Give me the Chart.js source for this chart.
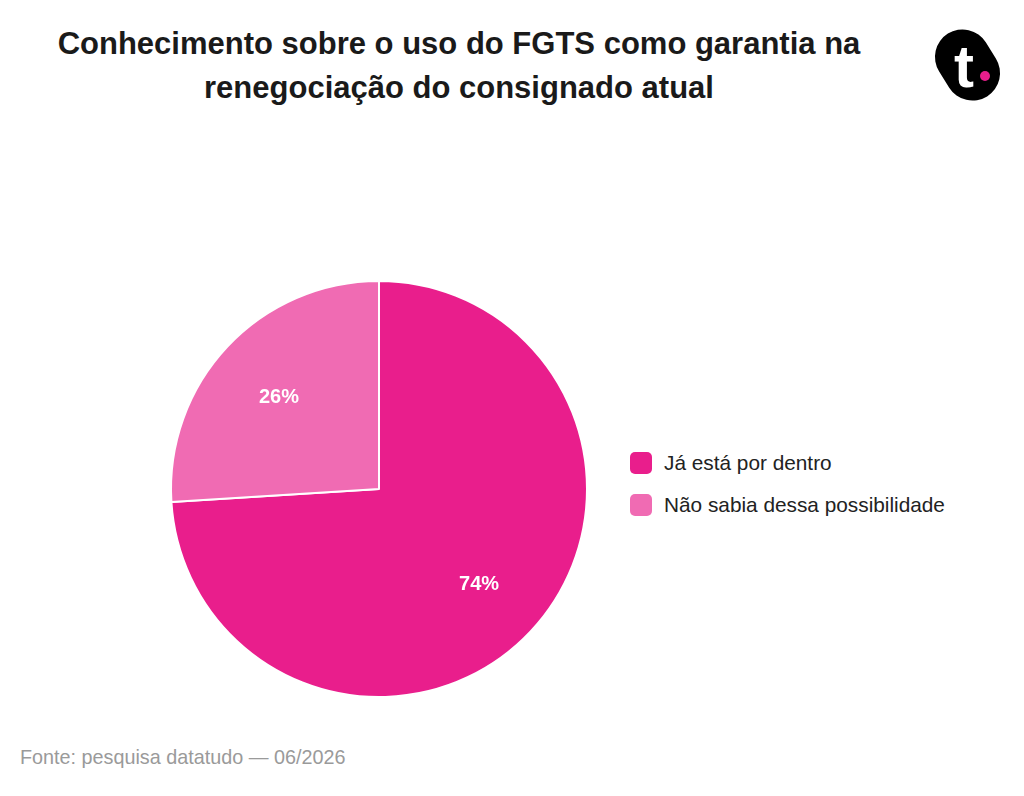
<!DOCTYPE html>
<html lang="pt-BR">
<head>
<meta charset="utf-8">
<title>Conhecimento sobre o uso do FGTS</title>
<script src="https://cdn.jsdelivr.net/npm/chart.js@4.4.1/dist/chart.umd.min.js"></script>
<style>
  html, body { margin: 0; padding: 0; background: #fff; }
  body { width: 1024px; height: 796px; position: relative; overflow: hidden;
         font-family: "Liberation Sans", Arial, sans-serif; }
  #titulo { position: absolute; left: 0; top: 22px; width: 918px; text-align: center;
            font-size: 31px; font-weight: bold; line-height: 44px; color: #1a1a1a; margin: 0; }
  #logo { position: absolute; left: 934px; top: 26px; width: 66px; height: 76px; }
  #logo .blob { position: absolute; left: 6px; top: 2px; width: 55px; height: 74px;
                background: #000; border-radius: 28px; transform: rotate(-32deg); }
  #logo .t { position: absolute; left: 20px; top: 13px; color: #fff; font-weight: bold;
             font-size: 60px; line-height: 56px; }
  #logo .dot { position: absolute; left: 46px; top: 45px; width: 10px; height: 10px;
               border-radius: 50%; background: #e91e8c; }
  #grafico { position: absolute; left: 160px; top: 270px; width: 438px; height: 438px; }
  #legenda { position: absolute; left: 630px; top: 452px; font-size: 20.8px; color: #222; }
  #legenda div { display: flex; align-items: center; height: 22px; margin-bottom: 20px; }
  #legenda span.box { width: 22px; height: 22px; border-radius: 5px; margin-right: 12px; }
  #fonte { position: absolute; left: 20px; top: 746px; font-size: 19.8px; color: #9a9a9a; }
</style>
</head>
<body>
<h1 id="titulo">Conhecimento sobre o uso do FGTS como garantia na<br>renegociação do consignado atual</h1>
<div id="logo"><div class="blob"></div><div class="t">t</div><div class="dot"></div></div>
<div id="grafico"><canvas id="pizza"></canvas></div>
<div id="legenda"></div>
<div id="fonte">Fonte: pesquisa datatudo — 06/2026</div>
<script>
// Dados
const categorias = ["Já está por dentro", "Não sabia dessa possibilidade"];
const valores = [74, 26];
const cores = ["#e91e8c", "#f06bb3"];

// Rótulos de porcentagem dentro das fatias
const rotulos = {
  id: "rotulos",
  afterDatasetsDraw(chart) {
    const ctx = chart.ctx;
    const meta = chart.getDatasetMeta(0);
    ctx.save();
    ctx.fillStyle = "#fff";
    ctx.font = "bold 20px 'Liberation Sans', Arial, sans-serif";
    ctx.textAlign = "center";
    ctx.textBaseline = "middle";
    meta.data.forEach((arc, i) => {
      const meio = (arc.startAngle + arc.endAngle) / 2;
      const r = arc.outerRadius * 0.66;
      ctx.fillText(valores[i] + "%", arc.x + Math.cos(meio) * r, arc.y + Math.sin(meio) * r + 2);
    });
    ctx.restore();
  }
};

new Chart(document.getElementById("pizza").getContext("2d"), {
  type: "pie",
  data: {
    labels: categorias,
    datasets: [{ data: valores, backgroundColor: cores, borderColor: "#fff", borderWidth: 2 }]
  },
  options: {
    responsive: true,
    maintainAspectRatio: false,
    animation: false,
    layout: { padding: 10 },
    plugins: { legend: { display: false }, tooltip: { enabled: false } }
  },
  plugins: [rotulos]
});

// Legenda em HTML
const legenda = document.getElementById("legenda");
categorias.forEach((c, i) => {
  const linha = document.createElement("div");
  linha.innerHTML = '<span class="box" style="background:' + cores[i] + '"></span>' + c;
  legenda.appendChild(linha);
});
</script>
</body>
</html>
